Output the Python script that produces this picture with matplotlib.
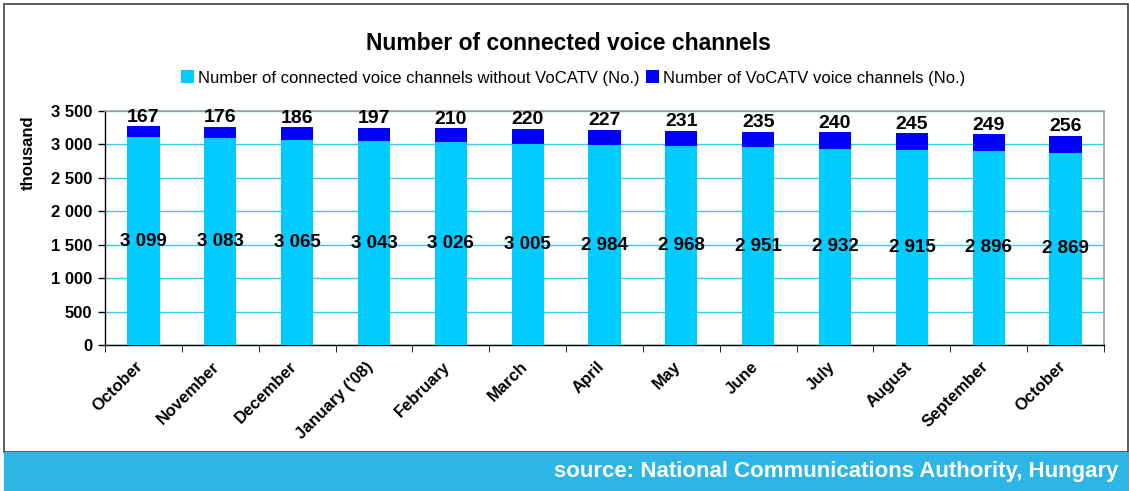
import matplotlib
matplotlib.use("Agg")
import matplotlib.pyplot as plt
from matplotlib.patches import Rectangle
from matplotlib.ticker import FuncFormatter, FixedLocator
import matplotlib.transforms as mtrans
import numpy as np

plt.rcParams['font.family'] = ['Liberation Sans', 'DejaVu Sans']

months = ["October", "November", "December", "January ('08)", "February", "March",
          "April", "May", "June", "July", "August", "September", "October"]
without_vocatv = [3099, 3083, 3065, 3043, 3026, 3005, 2984, 2968, 2951, 2932, 2915, 2896, 2869]
vocatv = [167, 176, 186, 197, 210, 220, 227, 231, 235, 240, 245, 249, 256]
yticks = [0, 500, 1000, 1500, 2000, 2500, 3000, 3500]

W, H = 1129, 491
fig = plt.figure(figsize=(W / 100, H / 100), dpi=100)

# outer frame and bottom band
fig.patches.append(Rectangle((4 / W, 1 - 452 / H), (W - 5) / W, 448 / H, transform=fig.transFigure,
                             fill=False, edgecolor='#404040', linewidth=1.2))
fig.patches.append(Rectangle((4 / W, 0), (W - 4) / W, 39 / H, transform=fig.transFigure,
                             facecolor='#2db5e6', edgecolor='none'))
fig.text(1118 / W, 1 - 471 / H, "source: National Communications Authority, Hungary",
         color='white', fontsize=16, fontweight='bold', ha='right', va='center')

left, right, top, bottom = 105, 1104, 110.5, 345
ax = fig.add_axes([left / W, 1 - bottom / H, (right - left) / W, (bottom - top) / H])

x = np.arange(len(months))
c1 = '#00ccff'
c2 = '#0000ff'
b1 = ax.bar(x, without_vocatv, width=0.42, color=c1, label='Number of connected voice channels without VoCATV (No.)', zorder=3)
b2 = ax.bar(x, vocatv, width=0.42, bottom=without_vocatv, color=c2, label='Number of VoCATV voice channels (No.)', zorder=3)

fmt = lambda v: f"{int(v):,}".replace(",", " ")
for xi, a, b in zip(x, without_vocatv, vocatv):
    ax.text(xi, a / 2, fmt(a), ha='center', va='center', fontsize=13.5, fontweight='bold', zorder=4)
    ax.text(xi, a + b + 10, fmt(b), ha='center', va='bottom', fontsize=14, fontweight='bold', zorder=4)

ax.set_xlim(-0.5, len(months) - 0.5)
ax.set_ylim(0, 3500)
ax.set_yticks(yticks)
ax.yaxis.set_major_formatter(FuncFormatter(lambda v, p: fmt(v)))
ax.grid(axis='y', color='#33ccee', linewidth=1, zorder=0)
ax.set_axisbelow(True)

ax.set_xticks(x)
ax.set_xticklabels(months, rotation=45, ha='right', va='top', rotation_mode='anchor',
                   fontsize=12, fontweight='bold')
ax.tick_params(axis='x', which='major', length=0, pad=10)
shift = mtrans.ScaledTranslation(-8 / 100, 0, fig.dpi_scale_trans)
for lab in ax.get_xticklabels():
    lab.set_transform(lab.get_transform() + shift)
ax.xaxis.set_minor_locator(FixedLocator(np.arange(-0.5, len(months), 1)))
ax.tick_params(axis='x', which='minor', length=5, direction='out', color='black')
ax.tick_params(axis='y', length=5, direction='out', labelsize=12, width=1, pad=4)
for lab in ax.get_yticklabels():
    lab.set_fontweight('bold')
ax.set_ylabel('thousand', fontsize=12, fontweight='bold')
ax.yaxis.set_label_coords(-69 / (right - left), 0.82)

for s in ['top', 'right']:
    ax.spines[s].set_color('#a0a0a0')
    ax.spines[s].set_linewidth(1.2)
for s in ['left', 'bottom']:
    ax.spines[s].set_color('black')
    ax.spines[s].set_linewidth(1)

fig.text(568 / W, 1 - 43 / H, "Number of connected voice channels", ha='center', va='center',
         fontsize=16.5, fontweight='bold')
fig.legend(handles=[b1, b2], loc='center', bbox_to_anchor=(573 / W, 1 - 78 / H), ncol=2,
           frameon=False, fontsize=12, handlelength=0.8, handleheight=0.8, handletextpad=0.2,
           columnspacing=0.4)

fig.savefig('out.png', dpi=100)
